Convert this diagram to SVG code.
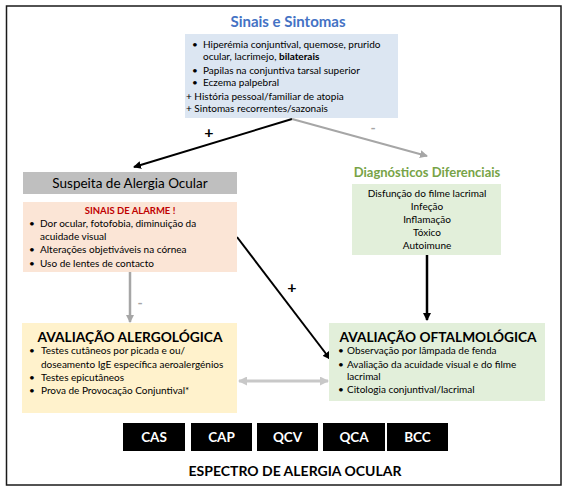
<svg xmlns="http://www.w3.org/2000/svg" width="572" height="491" viewBox="0 0 572 491">
<defs>
<marker id="ab" markerWidth="8" markerHeight="8" refX="7" refY="4" orient="auto" markerUnits="userSpaceOnUse"><path d="M0,0 L8,4 L0,8 z" fill="#000"/></marker>
<marker id="ag" markerWidth="8" markerHeight="8" refX="7" refY="4" orient="auto" markerUnits="userSpaceOnUse"><path d="M0,0 L8,4 L0,8 z" fill="#A6A6A6"/></marker>
<marker id="al" markerWidth="9" markerHeight="9" refX="8" refY="4.5" orient="auto-start-reverse" markerUnits="userSpaceOnUse"><path d="M0,0 L9,4.5 L0,9 z" fill="#C8C8C8"/></marker>
</defs>
<style>
text{font-family:Lato,"Open Sans","Liberation Sans",sans-serif;fill:#000}
.s{font-size:10px}
.b{font-weight:bold}
.c{text-anchor:middle}
.h{font-size:14px;font-weight:bold}
.k{font-size:13.5px;font-weight:bold;fill:#fff;text-anchor:middle}
.p{font-size:16px;font-weight:bold;text-anchor:middle;fill:#000}
.m{font-size:14px;font-weight:bold;text-anchor:middle;fill:#A6A6A6}
</style>
<rect x="6.5" y="6" width="554.5" height="479" fill="#fff" stroke="#1a1a1a" stroke-width="1.5"/>

<g id="connectors">
<line x1="292" y1="119" x2="134" y2="167" stroke="#000" stroke-width="2" marker-end="url(#ab)"/>
<line x1="292" y1="119" x2="427" y2="156" stroke="#A6A6A6" stroke-width="2" marker-end="url(#ag)"/>
<line x1="427" y1="255" x2="427" y2="320" stroke="#000" stroke-width="2.5" marker-end="url(#ab)"/>
<line x1="237" y1="237" x2="330" y2="359" stroke="#000" stroke-width="2" marker-end="url(#ab)"/>
<line x1="130" y1="272" x2="130" y2="322" stroke="#A6A6A6" stroke-width="2.5" marker-end="url(#ag)"/>
<line x1="239" y1="381" x2="328" y2="381" stroke="#C8C8C8" stroke-width="3" marker-start="url(#al)" marker-end="url(#al)"/>
<text x="209" y="138" class="p">+</text>
<text x="373" y="133" class="m">-</text>
<text x="292" y="293" class="p">+</text>
<text x="140" y="308" class="m">-</text>
</g>

<g id="sinais">
<text x="288" y="27" class="c b" font-size="15" style="fill:#4472C4">Sinais e Sintomas</text>
<rect x="185" y="34" width="213" height="84" fill="#DCE6F2"/>
<text class="s"><tspan x="192" y="48">•</tspan><tspan x="203" y="48">Hiperémia conjuntival, quemose, prurido</tspan><tspan x="203" y="60">ocular, lacrimejo, <tspan class="b">bilaterais</tspan></tspan><tspan x="192" y="74">•</tspan><tspan x="203" y="74">Papilas na conjuntiva tarsal superior</tspan><tspan x="192" y="86">•</tspan><tspan x="203" y="86">Eczema palpebral</tspan><tspan x="186" y="100">+ História pessoal/familiar de atopia</tspan><tspan x="186" y="112">+ Sintomas recorrentes/sazonais</tspan></text>
</g>

<g id="suspeita">
<rect x="23" y="172" width="214" height="22" fill="#BFBFBF"/>
<text x="130" y="188" class="c" font-size="13.5">Suspeita de Alergia Ocular</text>
</g>

<g id="alarme">
<rect x="23" y="202" width="214" height="70" fill="#FBE5D6"/>
<text x="130" y="214" class="c b" font-size="9.5" style="fill:#C00000">SINAIS DE ALARME !</text>
<text class="s"><tspan x="29" y="227">•</tspan><tspan x="40" y="227">Dor ocular, fotofobia, diminuição da</tspan><tspan x="40" y="240">acuidade visual</tspan><tspan x="29" y="253">•</tspan><tspan x="40" y="253">Alterações objetiváveis na córnea</tspan><tspan x="29" y="267">•</tspan><tspan x="40" y="267">Uso de lentes de contacto</tspan></text>
</g>

<g id="diferenciais">
<text x="427" y="177" class="c b" font-size="13" style="fill:#77A347">Diagnósticos Diferenciais</text>
<rect x="352" y="184" width="149" height="71" fill="#E2EFDA"/>
<text class="s c"><tspan x="427" y="197">Disfunção do filme lacrimal</tspan><tspan x="427" y="210">Infeção</tspan><tspan x="427" y="223">Inflamação</tspan><tspan x="427" y="236">Tóxico</tspan><tspan x="427" y="249">Autoimune</tspan></text>
</g>

<g id="alergologica">
<rect x="22" y="323" width="215" height="90" fill="#FFF2CC"/>
<text x="130" y="342" class="c h" textLength="185" lengthAdjust="spacingAndGlyphs">AVALIAÇÃO ALERGOLÓGICA</text>
<text class="s"><tspan x="29" y="354">•</tspan><tspan x="41" y="354">Testes cutâneos por picada e ou/</tspan><tspan x="41" y="368">doseamento IgE específica aeroalergénios</tspan><tspan x="29" y="381">•</tspan><tspan x="41" y="381">Testes epicutâneos</tspan><tspan x="29" y="394">•</tspan><tspan x="41" y="394">Prova de Provocação Conjuntival*</tspan></text>
</g>

<g id="oftalmologica">
<rect x="329" y="323" width="216" height="78" fill="#E2EFDA"/>
<text x="438" y="342" class="c h" textLength="197" lengthAdjust="spacingAndGlyphs">AVALIAÇÃO OFTALMOLÓGICA</text>
<text class="s"><tspan x="338" y="354">•</tspan><tspan x="347" y="354">Observação por lâmpada de fenda</tspan><tspan x="338" y="368">•</tspan><tspan x="347" y="368">Avaliação da acuidade visual e do filme</tspan><tspan x="347" y="380">lacrimal</tspan><tspan x="338" y="393">•</tspan><tspan x="347" y="393">Citologia conjuntival/lacrimal</tspan></text>
</g>

<g id="espectro">
<rect x="123" y="423" width="62" height="28" fill="#000"/>
<rect x="191" y="423" width="61" height="28" fill="#000"/>
<rect x="257" y="423" width="61" height="28" fill="#000"/>
<rect x="323" y="423" width="62" height="28" fill="#000"/>
<rect x="387" y="423" width="61" height="28" fill="#000"/>
<text x="154" y="442" class="k">CAS</text>
<text x="221.5" y="442" class="k">CAP</text>
<text x="287.5" y="442" class="k">QCV</text>
<text x="354" y="442" class="k">QCA</text>
<text x="417.5" y="442" class="k">BCC</text>
<text x="295" y="476" class="c b" font-size="14">ESPECTRO DE ALERGIA OCULAR</text>
</g>
</svg>
